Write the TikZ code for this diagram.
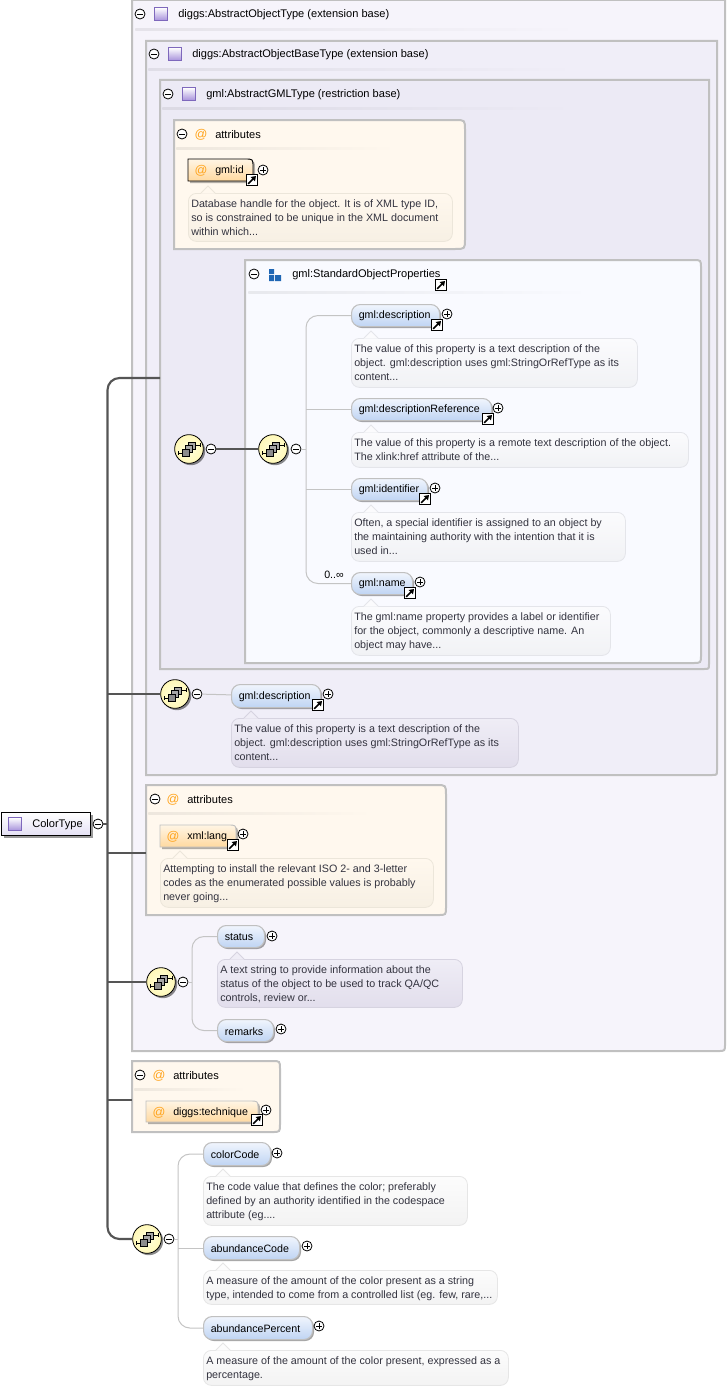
\documentclass[tikz,border=0pt]{standalone}
\usepackage{fontspec}
\setmainfont{Liberation Sans}
\usetikzlibrary{arrows.meta,shadows}
\definecolor{bordr}{HTML}{C0C0C0}
\definecolor{outerbg}{HTML}{F6F4FB}
\definecolor{midbg}{HTML}{F0EEF8}
\definecolor{innerbg}{HTML}{ECEAF5}
\definecolor{attrbg}{HTML}{FFF8EE}
\definecolor{groupbg}{HTML}{F9FAFF}
\definecolor{notetxt}{HTML}{33333F}
\definecolor{trunkc}{HTML}{555555}
\definecolor{thinc}{HTML}{C4C4C4}
\definecolor{eltop}{HTML}{F0F5FD}
\definecolor{elbot}{HTML}{BFD4F3}
\definecolor{iconedge}{HTML}{7E68BC}
\definecolor{iconlow}{HTML}{A893DC}
\definecolor{roottop}{HTML}{FFFFFF}
\definecolor{rootbot}{HTML}{E4E0F4}
\definecolor{attrlow}{HTML}{FFD9A0}
\definecolor{attrhigh}{HTML}{FFF5E4}
\definecolor{grpblue}{HTML}{1F66B4}
\definecolor{atorange}{HTML}{FFA41C}
\definecolor{compin}{HTML}{FFFFDC}
\definecolor{compout}{HTML}{FFF8B8}
% note palettes: T top, B bottom, D border
\definecolor{nwT}{HTML}{FBFBFD}\definecolor{nwB}{HTML}{F1F2F5}\definecolor{nwD}{HTML}{E4E5EA}
\definecolor{nlT}{HTML}{EFEDF6}\definecolor{nlB}{HTML}{E2DEEC}\definecolor{nlD}{HTML}{D6D3E0}
\definecolor{ncT}{HTML}{FFF8EE}\definecolor{ncB}{HTML}{F7F0E4}\definecolor{ncD}{HTML}{ECE6DA}
\definecolor{noT}{HTML}{FCFCFC}\definecolor{noB}{HTML}{F3F3F3}\definecolor{noD}{HTML}{E6E6E6}
\tikzset{
  x=0.75pt,y=-0.75pt,
  titletext/.style={font=\fontsize{8.3}{10}\selectfont,anchor=west,inner sep=0pt,text=black,yshift=-.6pt},
  notetext/.style={font=\fontsize{8.05}{10.5}\selectfont,anchor=north west,inner sep=0pt,align=left,text=notetxt},
  eltext/.style={font=\fontsize{8}{10}\selectfont,inner sep=0pt,text=black,yshift=-.9pt},
  atsign/.style={font=\fontsize{9.5}{10}\selectfont,inner sep=0pt,text=atorange,yshift=-.7pt},
  notebox/.style={rectangle,rounded corners=6pt,inner sep=0pt,anchor=north west},
  elbox/.style={rectangle,rounded corners=6.5pt,inner sep=0pt,anchor=north west,draw=bordr,line width=.8pt,
    top color=eltop,bottom color=elbot,
    drop shadow={shadow xshift=1.1pt,shadow yshift=-1.1pt,fill=black,opacity=.35}},
  togbox/.style={circle,draw=black,fill=white,line width=.6pt,minimum size=7.5pt,inner sep=0pt},
  linkbox/.style={rectangle,draw=black,fill=white,line width=.9pt,minimum size=8.5pt,inner sep=0pt},
  compbox/.style={circle,draw=black,line width=.6pt,minimum size=21.5pt,inner sep=0pt,
    inner color=compin,outer color=compout,
    drop shadow={shadow xshift=1.4pt,shadow yshift=-1.4pt,fill=black,opacity=.45}},
  typeicon/.style={rectangle,draw=iconedge,line width=.9pt,minimum size=9.5pt,inner sep=0pt,
    top color=white,bottom color=iconlow},
  trunk/.style={draw=trunkc,line width=1.6pt,rounded corners=9pt},
  thinline/.style={draw=thinc,line width=.75pt,rounded corners=9pt},
  ghost/.style={rectangle,inner sep=0pt,anchor=north west},
}
% \cbox{name}{x1}{y1}{x2}{y2}{fill}{r top}{r bottom}
\newcommand{\cbox}[8]{%
  \path[draw=bordr,line width=1.5pt,fill=#6] (#2,#3) -- ({#4-#7},#3) .. controls (#4,#3) .. (#4,{#3+#7})
    -- (#4,{#5-#8}) .. controls (#4,#5) .. ({#4-#8},#5) -- (#2,#5) -- cycle;
  \node[ghost,minimum width={(#4-#2)*0.75pt},minimum height={(#5-#3)*0.75pt}] (#1) at (#2,#3) {};}
% \uline{name}{x1}{x2}{y}{colour}
\newcommand{\uline}[5]{%
  \node[rectangle,inner sep=0pt,anchor=north west,minimum width={(#3-#2)*0.75pt},minimum height=2pt,
    left color=black!7!#5,right color=#5] (#1) at (#2,{#4-1}) {};}
\newcommand{\tm}[3]{\node[togbox] (#1) at (#2,#3) {};
  \draw[line width=.6pt] ({#2-3},#3) -- ({#2+3},#3);}
\newcommand{\tp}[3]{\node[togbox] (#1) at (#2,#3) {};
  \draw[line width=.6pt] ({#2-3},#3) -- ({#2+3},#3) ({#2},{#3-3}) -- ({#2},{#3+3});}
\newcommand{\lnk}[3]{\node[linkbox] (#1) at (#2,#3) {};
  \draw[line width=1.2pt,-{Triangle[length=3.4pt,width=4.4pt]}] ({#2-3.8},{#3+3.8}) -- ({#2+4},{#3-4});}
% \comp{name}{x}{y}
\newcommand{\comp}[3]{\node[compbox] (#1) at (#2,#3) {};
  \begin{scope}[shift={(#2,#3)}]
    \draw[line width=.6pt] (-11,4) -- (-5,4) (5,-4) -- (11,-4) (-11,2) -- (-11,6) (11,-6) -- (11,-2);
    \path[draw=black,fill=black!35,line width=.5pt] (-1,-7) rectangle (6,0);
    \path[draw=black,fill=black!35,line width=.5pt] (-4,-4) rectangle (3,3);
    \path[draw=black,fill=black!45,line width=.5pt] (-7,0) rectangle (0,7);
  \end{scope}}
% \note{name}{x1}{y1}{x2}{y2}{palette}{text}
\newcommand{\note}[7]{%
  \node[notebox,draw=#6D,line width=.6pt,top color=#6T,bottom color=#6B,
    minimum width={(#4-#2)*0.75pt},minimum height={(#5-#3)*0.75pt}] (#1) at (#2,#3) {};
  \path[fill=#6T] ({#2+13},{#3+.5}) -- ({#2+20},{#3-7}) -- ({#2+27},{#3+.5}) -- cycle;
  \draw[#6D,line width=.6pt] ({#2+13},#3) -- ({#2+20},{#3-7}) -- ({#2+27},#3);
  \node[notetext] (#1-t) at ({#2+3},{#3+6}) {#7};}
% \elem{name}{x1}{y1}{x2}{y2}{text}
\newcommand{\elem}[6]{%
  \node[elbox,minimum width={(#4-1-#2)*0.75pt},minimum height={(#5-#3)*0.75pt}] (#1) at (#2,#3) {};
  \node[eltext,anchor=west] (#1-t) at ({#2+7.5},{(#3+#5)/2}) {#6};}
% \attr{name}{x1}{y1}{x2}{y2}{border}{text}
\newcommand{\attr}[7]{%
  \path[fill=black,fill opacity=.3] ({#2+2},{#3+2}) -- ({#4-8+2},{#3+2}) .. controls ({#4+2},{#3+2}) .. ({#4+2},{#3+10}) -- ({#4+2},{#5+2}) -- ({#2+2},{#5+2}) -- cycle;
  \path[draw=#6,line width=.7pt,top color=attrhigh,bottom color=attrlow] (#2,#3) -- ({#4-8},#3) .. controls (#4,#3) .. (#4,{#3+8}) -- (#4,#5) -- (#2,#5) -- cycle;
  \node[ghost,minimum width={(#4-#2)*0.75pt},minimum height={(#5-#3)*0.75pt}] (#1) at (#2,#3) {};
  \node[atsign] (#1-a) at ({#2+13},{(#3+#5)/2}) {@};
  \node[eltext,anchor=west] (#1-t) at ({#2+27},{(#3+#5)/2}) {#7};}
\begin{document}
\begin{tikzpicture}
\useasboundingbox (0,0) rectangle (727,1388);
\fill[white] (0,0) rectangle (727,1388);
\coordinate (tk) at (107.5,824);
\coordinate (c1) at (160,378);
\coordinate (c2) at (146,853);
\coordinate (c3) at (132,1100);
% containers
\cbox{outer}{132}{0}{725}{1051}{outerbg}{0}{7}
\uline{u1}{135}{580}{29}{outerbg}
\node[typeicon] (i1) at (161,14) {};
\tm{t1}{140}{14}
\node[titletext] (l1) at (178,14) {diggs:AbstractObjectType (extension base)};
\cbox{mid}{146}{41}{717}{775}{midbg}{0}{5}
\uline{u2}{148}{577}{69}{midbg}
\node[typeicon] (i2) at (175,54) {};
\tm{t2}{154}{54}
\node[titletext] (l2) at (192,54) {diggs:AbstractObjectBaseType (extension base)};
\cbox{inner}{160}{80}{709}{669}{innerbg}{0}{5}
\uline{u3}{162}{575}{108}{innerbg}
\node[typeicon] (i3) at (189,94) {};
\tm{t3}{168}{94}
\node[titletext] (l3) at (206,94) {gml:AbstractGMLType (restriction base)};
% attributes 1
\cbox{att1}{174}{120}{465}{249}{attrbg}{10}{10}
\uline{u4}{176}{395}{148}{attrbg}
\tm{t4}{182}{134}
\node[atsign] (a4) at (201,134) {@};
\node[titletext] (l4) at (215,134) {attributes};
\attr{id}{188}{159}{253}{181}{black}{gml:id}
\lnk{idl}{252}{180}
\tp{idp}{263}{170}
\note{idn}{188}{193}{452}{241}{nc}{Database handle for the object. It is of XML type ID,\\so is constrained to be unique in the XML document\\within which...}
% group
\cbox{grp}{245}{260}{701}{663}{groupbg}{8}{8}
\uline{u5}{248}{590}{292}{groupbg}
\tm{t5}{254}{274}
\fill[grpblue] (269,269) rectangle (274,274) (269,275) rectangle (274,281) (275,275) rectangle (281,281);
\node[titletext] (l5) at (292,274) {gml:StandardObjectProperties};
\lnk{gl}{441}{285}
% compositors
\comp{c4}{189}{449}
\tm{t6}{211}{449}
\comp{c5}{273}{449}
\tm{t7}{296}{449}
\draw[trunkc,line width=1.5pt] (t6) -- (c5);
\coordinate (bq) at (306,449);
\elem{e1}{351}{304}{440}{326}{gml:description}
\elem{e2}{351}{398}{492}{420}{gml:descriptionReference}
\elem{e3}{351}{478}{428}{500}{gml:identifier}
\elem{e4}{351}{572}{413}{594}{gml:name}
\draw[thinline] (e1.west) -- (e1.west -| bq) -- (e4.west -| bq) -- (e4.west);
\draw[thinline] (t7) -- (bq);
\draw[thinline] (e2.west) -- (e2.west -| bq);
\draw[thinline] (e3.west) -- (e3.west -| bq);
\node[font=\fontsize{8}{10}\selectfont,inner sep=0pt,anchor=east] (occ) at (344,575) {0..∞};
\lnk{e1l}{437}{325}\tp{e1p}{447}{314}
\note{e1n}{351}{338}{637}{387}{nw}{The value of this property is a text description of the\\object. gml:description uses gml:StringOrRefType as its\\content...}
\lnk{e2l}{488}{419}\tp{e2p}{498}{408}
\note{e2n}{351}{432}{688}{467}{nw}{The value of this property is a remote text description of the object.\\The xlink:href attribute of the...}
\lnk{e3l}{425}{499}\tp{e3p}{435}{488}
\note{e3n}{351}{512}{625}{561}{nw}{Often, a special identifier is assigned to an object by\\the maintaining authority with the intention that it is\\used in...}
\lnk{e4l}{410}{593}\tp{e4p}{420}{582}
\note{e4n}{351}{606}{610}{655}{nw}{The gml:name property provides a label or identifier\\for the object, commonly a descriptive name. An\\object may have...}
\comp{c6}{175}{694}
\tm{t8}{197}{694}
\elem{e5}{231}{684}{321}{707}{gml:description}
\draw[thinline] (t8) -- (e5);
\lnk{e5l}{318}{705}\tp{e5p}{328}{694}
\note{e5n}{231}{718}{518}{767}{nl}{The value of this property is a text description of the\\object. gml:description uses gml:StringOrRefType as its\\content...}
% attributes 2
\cbox{att2}{146}{785}{446}{915}{attrbg}{10}{8}
\uline{u6}{148}{372}{813}{attrbg}
\tm{t9}{155}{799}
\node[atsign] (a9) at (173,799) {@};
\node[titletext] (l9) at (187,799) {attributes};
\attr{la}{160}{825}{236}{847}{bordr}{xml:lang}
\lnk{lal}{233}{845}\tp{lap}{243}{834}
\note{lan}{160}{858}{433}{907}{nc}{Attempting to install the relevant ISO 2- and 3-letter\\codes as the enumerated possible values is probably\\never going...}
% status sequence
\comp{c7}{161}{982}
\tm{t10}{183}{982}
\coordinate (bs) at (192,982);
\elem{e6}{217}{925}{265}{947}{status}
\elem{e7}{217}{1019}{274}{1041}{remarks}
\draw[thinline] (e6.west) -- (e6.west -| bs) -- (e7.west -| bs) -- (e7.west);
\draw[thinline] (t10) -- (bs);
\tp{e6p}{272}{936}\tp{e7p}{281}{1029}
\note{e6n}{217}{959}{462}{1007}{nl}{A text string to provide information about the\\status of the object to be used to track QA/QC\\controls, review or...}
% attributes 3
\cbox{att3}{132}{1061}{280}{1132}{attrbg}{8}{8}
\uline{u7}{134}{245}{1089}{attrbg}
\tm{t11}{140}{1075}
\node[atsign] (a11) at (159,1075) {@};
\node[titletext] (l11) at (173,1075) {attributes};
\attr{te}{146}{1101}{258}{1122}{bordr}{diggs:technique}
\lnk{tel}{257}{1120}\tp{tep}{266}{1110}
% last sequence
\comp{c8}{147}{1239}
\tm{t12}{169}{1239}
\coordinate (bl) at (178,1239);
\elem{e8}{203}{1142}{271}{1165}{colorCode}
\elem{e9}{203}{1236}{300}{1259}{abundanceCode}
\elem{e10}{203}{1316}{313}{1339}{abundancePercent}
\draw[thinline] (e8.west) -- (e8.west -| bl) -- (e10.west -| bl) -- (e10.west);
\draw[thinline] (t12) -- (bl);
\draw[thinline] (e9.west) -- (e9.west -| bl);
\tp{e8p}{277}{1153}\tp{e9p}{307}{1246}\tp{e10p}{319}{1326}
\note{e8n}{203}{1176}{467}{1225}{no}{The code value that defines the color; preferably\\defined by an authority identified in the codespace\\attribute (eg....}
\note{e9n}{203}{1270}{497}{1304}{no}{A measure of the amount of the color present as a string\\type, intended to come from a controlled list (eg. few, rare,...}
\note{e10n}{203}{1350}{508}{1385}{no}{A measure of the amount of the color present, expressed as a\\percentage.}
% root
\node[rectangle,draw=black,line width=.9pt,anchor=north west,inner sep=0pt,minimum width=66.75pt,minimum height=17.25pt,
  top color=roottop,bottom color=rootbot,
  drop shadow={shadow xshift=1.6pt,shadow yshift=-1.6pt,fill=black,opacity=.4}] (root) at (1,812) {};
\node[typeicon] (ri) at (15,824) {};
\node[titletext] (rt) at (32,824) {ColorType};
\tm{t0}{98}{824}
% trunk
\draw[trunkc,line width=.9pt] (t0) -- (tk);
\draw[trunk] (c1) -- (c1 -| tk) -- (c8.west -| tk) -- (c8.west);
\draw[trunk,sharp corners] (c6.west -| tk) -- (c6.west);
\draw[trunk,sharp corners] (c2 -| tk) -- (c2);
\draw[trunk,sharp corners] (c7.west -| tk) -- (c7.west);
\draw[trunk,sharp corners] (c3 -| tk) -- (c3);
\end{tikzpicture}
\end{document}
